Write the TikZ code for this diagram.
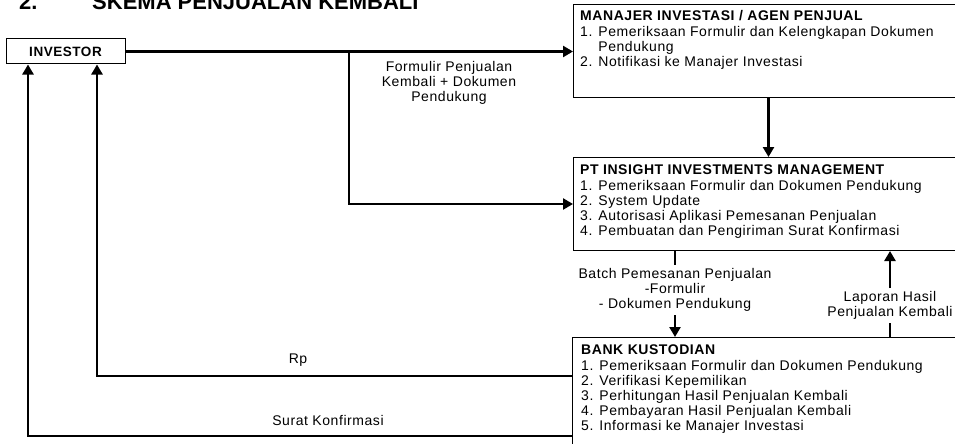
\documentclass[tikz,border=0pt]{standalone}
\usepackage{fontspec}
\newfontfamily\diafont{Liberation Sans}[LetterSpace=4]
\newfontfamily\headfont{Liberation Sans}
\usetikzlibrary{arrows.meta}
\tikzset{
  panel/.style={draw, line width=1pt, minimum width=390, minimum height=#1,
    anchor=north west, inner sep=0pt},
  listtext/.style={anchor=north west, align=left, inner sep=0pt,
    font=\diafont\fontsize{14}{15.1}\selectfont},
  lbl/.style={align=center, inner xsep=2pt, inner ysep=3pt,
    font=\diafont\fontsize{14}{15.3}\selectfont},
  hdr/.style={anchor=base west, inner sep=0pt,
    font=\headfont\bfseries\fontsize{22}{26}\selectfont},
  conn/.style={line width=2.4pt, -{Triangle[length=10pt,width=11pt]}},
  wire/.style={line width=2.4pt}
}
\begin{document}
\begin{tikzpicture}[x=1pt, y=-1pt]
\clip (0,0) rectangle (955,444);
% title (cut at the top)
\node[hdr] (num) at (19,9.5) {2.};
\node[hdr] (ttl) at (92,9.5) {SKEMA PENJUALAN KEMBALI};
% boxes
\node[draw, line width=1pt, minimum width=119, minimum height=25, inner sep=0pt,
  font=\diafont\bfseries\fontsize{13.5}{15}\selectfont] (inv) at (65.5,51.5) {INVESTOR};
\node[panel=93] (mi) at (573,4) {};
\node[panel=93] (pt) at (573,157) {};
\node[panel=130] (bk) at (572,337) {};
\node[listtext] (mitxt) at (580,10.6) {\textbf{MANAJER INVESTASI / AGEN PENJUAL}\\
  1. Pemeriksaan Formulir dan Kelengkapan Dokumen\\
  \phantom{1. }Pendukung\\
  2. Notifikasi ke Manajer Investasi};
\node[listtext] (pttxt) at (580,165) {\textbf{PT INSIGHT INVESTMENTS MANAGEMENT}\\
  1. Pemeriksaan Formulir dan Dokumen Pendukung\\
  2. System Update\\
  3. Autorisasi Aplikasi Pemesanan Penjualan\\
  4. Pembuatan dan Pengiriman Surat Konfirmasi};
\node[listtext] (bktxt) at (581,345) {\textbf{BANK KUSTODIAN}\\
  1. Pemeriksaan Formulir dan Dokumen Pendukung\\
  2. Verifikasi Kepemilikan\\
  3. Perhitungan Hasil Penjualan Kembali\\
  4. Pembayaran Hasil Penjualan Kembali\\
  5. Informasi ke Manajer Investasi};
% labels
\node[lbl] (fpk) at (449,83) {Formulir Penjualan\\Kembali + Dokumen\\Pendukung};
\node[lbl] (batch) at (675,290) {Batch Pemesanan Penjualan\\-Formulir\\- Dokumen Pendukung};
\node[lbl] (lap) at (890,305.5) {Laporan Hasil\\Penjualan Kembali};
\node[lbl] (rp) at (298,360) {Rp};
\node[lbl] (sk) at (328,420) {Surat Konfirmasi};
% connectors
\coordinate (fork) at (349,51.5);
\draw[conn] (inv.east) -- (inv.east -| mi.west);
\draw[conn] (fork) |- (pt.west);
\draw[conn] (mi.south) -- (pt.north);
\draw[wire] (pt.south -| batch.north) -- (batch.north);
\draw[conn] (batch.south) -- (batch.south |- bk.north);
\draw[wire] (bk.north -| lap.south) -- (lap.south);
\draw[conn] (lap.north) -- (lap.north |- pt.south);
\draw[conn] ([yshift=-39]bk.north west) -| ([xshift=31.5]inv.south);
\draw[conn] ([yshift=-99]bk.north west) -| ([xshift=-37.5]inv.south);
\end{tikzpicture}
\end{document}
